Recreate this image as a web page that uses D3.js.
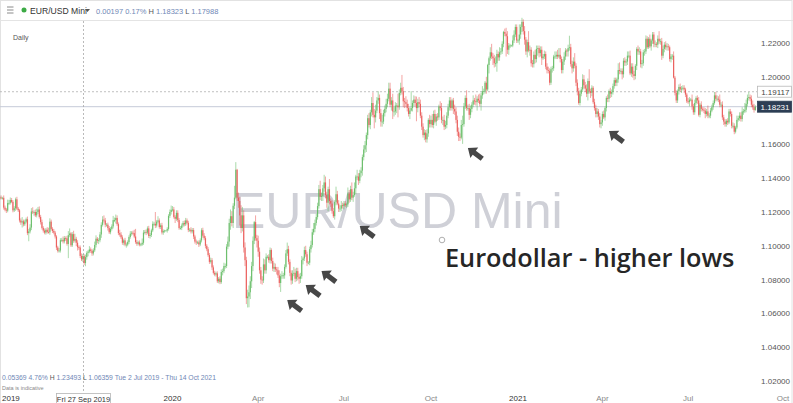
<!DOCTYPE html>
<html><head><meta charset="utf-8">
<script src="https://cdn.jsdelivr.net/npm/d3@7/dist/d3.min.js"></script>
<style>
html,body{margin:0;padding:0;background:#fff;overflow:hidden;}
svg{display:block;font-family:"Liberation Sans",Arial,sans-serif;}
</style></head><body>
<svg id="c" width="793" height="403"></svg>
<script>
// EUR/USD daily, values in 1/10000 (open of each day = previous close)
const firstOpen = 11285;
const closes = [
// Jul 2019
11286,11283,11284,11226,11214,11208,11253,11254,11271,11260,11210,11222,11275,11220,11210,11150,11138,11145,11127,11143,11157,11075,
// Aug 2019
11085,11108,11203,11198,11200,11180,11200,11215,11171,11140,11106,11090,11078,11095,11082,11080,11143,11100,11088,11078,11055,10990,
// Sep 2019
10970,10972,11033,11035,11026,11046,11044,11011,11063,11073,11003,11069,11030,11041,11018,10992,10990,10940,10920,10940,10898,
// Oct 2019
10933,10958,10966,10978,10970,10955,10973,11005,11042,11030,11033,11067,11124,11155,11150,11125,11125,11105,11080,11100,11115,11152,11152,
// Nov 2019
11165,11128,11075,11066,11050,11018,11032,11007,11007,11022,11052,11072,11077,11075,11055,11022,11012,11020,11007,11008,11018,
// Dec 2019
11078,11082,11078,11103,11058,11064,11091,11130,11130,11120,11143,11150,11111,11121,11079,11087,11090,11090,11100,11177,11200,11213,
// Jan 2020
11215,11171,11160,11195,11152,11105,11105,11120,11135,11127,11150,11136,11093,11095,11085,11093,11055,11025,11020,11020,11008,11032,11092,
// Feb 2020
11060,11045,11000,10980,10945,10905,10915,10872,10840,10830,10837,10790,10805,10785,10845,10850,10880,10880,10995,11025,
// Mar 2020
11135,11175,11135,11237,11285,11450,11285,11265,11180,11105,11180,10990,10915,10690,10700,10725,10790,10880,11030,11140,11045,11030,
// Apr 2020
10965,10855,10800,10795,10890,10855,10935,10935,10915,10975,10910,10865,10875,10860,10855,10825,10780,10820,10825,10825,10875,10955,
// May 2020
10980,10905,10840,10795,10835,10840,10805,10850,10815,10805,10820,10915,10925,10975,10950,10900,10900,10980,11005,11080,11100,
// Jun 2020
11135,11170,11235,11335,11290,11295,11340,11375,11300,11255,11335,11265,11250,11205,11175,11260,11305,11250,11220,11220,11240,11235,
// Jul 2020
11250,11240,11245,11310,11275,11335,11285,11300,11340,11410,11410,11385,11430,11445,11525,11570,11595,11655,11755,11715,11790,11845,11775,
// Aug 2020
11760,11800,11860,11875,11785,11735,11735,11785,11810,11840,11870,11930,11835,11860,11795,11795,11830,11830,11820,11905,11935,
// Sep 2020
11915,11855,11850,11840,11815,11780,11800,11815,11845,11865,11845,11815,11850,11840,11770,11705,11655,11670,11630,11665,11745,11720,
// Oct 2020
11745,11715,11780,11735,11765,11760,11825,11815,11745,11745,11705,11715,11770,11820,11860,11815,11860,11810,11795,11745,11675,11645,
// Nov 2020
11640,11715,11720,11825,11875,11815,11815,11775,11810,11835,11860,11855,11850,11870,11860,11840,11890,11915,11915,11965,11925,
// Dec 2020
12070,12110,12145,12120,12110,12080,12080,12135,12115,12145,12150,12195,12265,12255,12240,12160,12185,12185,12185,12215,12250,12295,12215,
// Jan 2021
12215,12250,12295,12325,12270,12220,12150,12205,12155,12160,12080,12075,12130,12105,12165,12170,12140,12160,12110,12120,12135,
// Feb 2021
12060,12040,12035,11965,12045,12050,12120,12120,12130,12120,12130,12105,12040,12090,12120,12155,12150,12170,12175,12075,
// Mar 2021
12050,12090,12065,11965,11915,11845,11900,11925,11985,11950,11930,11900,11975,11915,11905,11935,11850,11815,11780,11795,11765,11720,11730,
// Apr 2021
11780,11760,11815,11875,11870,11915,11900,11910,11945,11980,11965,11985,12040,12035,12035,12015,12095,12085,12090,12125,12125,12020,
// May 2021
12060,12015,12005,12065,12165,12150,12150,12075,12080,12145,12150,12225,12175,12225,12180,12215,12250,12195,12195,12190,12225,
// Jun 2021
12210,12210,12125,12165,12190,12175,12180,12175,12105,12120,12125,11995,11905,11860,11915,11940,11925,11930,11935,11925,11895,11855,
// Jul 2021
11850,11865,11865,11825,11790,11845,11875,11860,11775,11835,11810,11805,11800,11780,11795,11770,11770,11800,11820,11845,11890,11870,
// Aug 2021
11870,11865,11835,11835,11760,11735,11720,11740,11730,11795,11780,11710,11710,11675,11700,11745,11755,11770,11750,11795,11795,11805,
// Sep 2021
11840,11875,11880,11870,11835,11820,11803,11823
];
// wick beyond the body, in 1/10000
const upperWick = [
10,12,6,14,12,10,20,18,15,12,10,12,10,15,10,8,12,25,10,12,10,16,
15,20,20,25,10,15,20,15,18,12,15,10,12,10,15,25,20,12,10,12,10,8,
10,15,12,12,20,12,10,15,24,30,8,12,20,30,12,15,10,12,15,12,10,
15,10,10,20,12,10,12,20,20,10,12,15,15,20,25,15,10,12,12,10,12,25,15,
20,15,10,20,15,12,10,15,12,10,10,15,10,12,20,45,12,10,12,8,25,
15,12,15,12,15,12,10,15,12,70,10,25,12,12,15,10,5,3,10,10,15,25,
20,15,10,15,15,12,12,12,12,15,15,12,12,10,15,12,12,10,12,10,12,12,12,
15,15,12,10,12,12,15,12,12,12,10,12,10,15,15,15,20,15,15,30,
25,40,30,15,70,45,5,30,25,60,50,30,30,20,40,40,30,25,25,7,40,20,
30,25,20,20,35,30,20,10,15,15,10,20,25,20,15,20,30,15,25,15,15,20,
39,20,15,15,20,35,25,20,20,20,20,25,10,20,25,15,10,15,25,20,35,
20,20,20,25,50,20,20,45,35,20,15,60,15,20,20,10,45,20,20,20,25,15,
15,15,10,35,20,20,40,20,35,10,40,20,20,20,15,25,25,15,20,30,15,35,63,
35,35,20,40,20,25,40,20,20,30,30,35,35,20,40,25,20,15,70,20,30,
76,25,20,35,25,25,20,100,15,25,20,38,20,30,25,20,20,20,15,25,10,30,
25,35,20,25,15,20,10,30,30,20,30,25,20,20,20,20,10,15,25,25,25,25,
20,30,50,20,15,45,20,25,20,15,30,15,40,15,25,40,15,30,15,10,35,
7,10,30,50,20,20,40,25,15,30,20,15,7,20,35,30,15,10,5,30,25,15,15,
10,60,15,24,15,30,15,15,65,25,15,20,20,30,20,15,15,20,20,15,20,
15,20,20,15,15,15,10,30,20,30,40,40,15,15,25,15,10,20,68,20,
20,25,50,15,20,20,20,15,30,25,20,25,15,70,15,15,10,20,20,20,15,20,15,
15,20,10,10,20,10,20,15,15,15,15,10,40,45,15,15,15,20,15,25,25,30,
20,20,20,10,10,20,25,15,20,15,15,20,15,10,25,10,15,15,20,10,20,
45,15,20,20,15,20,20,15,10,15,10,25,10,15,10,15,20,15,15,15,10,10,
20,15,10,30,15,20,10,15,20,10,20,10,15,15,15,35,15,15,15,15,20,20,
20,15,30,15,20,15,15,10,15,15,15,15,20,15,10,25,15,20,20,25,15,40,
25,20,30,15,20,25,20,9
];
const lowerWick = [
12,8,10,12,10,14,10,12,10,8,12,10,15,8,10,12,14,30,12,10,10,12,
48,12,15,10,20,10,12,12,10,14,10,12,10,12,10,8,15,10,12,10,12,15,
10,10,12,10,12,12,15,10,84,12,10,10,12,10,20,20,14,12,10,15,12,
19,15,20,10,12,14,12,10,15,15,20,12,20,10,12,15,12,15,10,12,10,12,12,
20,10,12,12,10,12,15,10,18,10,12,10,12,10,10,10,12,10,10,10,8,
12,10,15,10,12,15,12,10,12,15,12,10,10,12,12,14,10,3,12,10,12,15,
10,10,25,12,12,10,10,12,10,12,10,10,12,10,12,12,15,12,15,10,15,10,12,
12,12,15,12,10,12,10,15,10,10,12,10,12,12,10,20,12,15,12,15,
30,40,20,30,20,10,20,40,60,30,20,30,35,35,55,64,40,40,30,20,15,40,
30,20,25,25,15,20,20,10,15,20,15,15,20,15,25,15,25,53,15,20,20,10,
15,15,20,25,20,15,20,15,20,30,25,15,25,15,15,20,10,15,20,15,15,
20,15,15,15,20,25,30,20,20,30,50,20,20,15,10,20,20,10,20,20,15,15,
20,10,15,15,20,15,15,25,10,35,20,25,15,25,30,20,20,40,25,15,25,25,15,
65,30,15,20,35,30,30,15,20,20,20,15,15,35,45,30,20,45,60,15,15,
20,35,35,20,20,15,30,5,20,20,20,78,25,20,15,20,15,30,18,20,20,20,
20,15,20,10,25,20,15,15,20,30,20,15,20,15,20,15,15,30,20,20,25,25,
20,10,112,15,15,15,15,30,20,20,15,20,20,50,15,15,40,20,20,15,25,
10,50,15,15,40,25,20,50,20,20,15,15,20,15,120,25,30,15,5,10,15,15,15,
15,25,25,30,20,30,20,35,10,30,20,20,20,25,20,40,25,20,40,10,15,
15,20,15,15,13,20,15,15,15,15,10,20,20,20,20,20,30,30,15,15,
30,20,15,20,25,10,15,15,15,20,20,20,40,15,30,20,10,15,20,20,20,20,25,
20,10,20,20,20,20,25,20,15,15,20,20,20,20,20,30,20,20,20,20,15,10,
20,20,25,20,25,20,20,20,25,15,20,15,10,10,10,25,20,20,20,15,20,
15,20,25,15,20,15,20,20,15,20,20,5,15,15,15,20,15,20,10,20,15,10,
10,25,10,20,15,15,10,20,10,15,15,10,15,25,15,15,15,15,10,15,10,15,
15,15,15,15,15,20,15,15,15,10,15,15,15,15,10,10,10,15,15,15,20,10,
15,15,15,15,15,15,15,4
];
const firstDate = "2019-07-02";
const rangeEnd = "2021-10-14";
// 1.18000 sits under the last-price box in the reference, so it is not labelled
const yTicks = [1.02,1.04,1.06,1.08,1.10,1.12,1.14,1.16,1.20,1.22];
const xTickDates = ["2020-01-01","2020-04-01","2020-07-01","2020-10-01","2021-01-01","2021-04-01","2021-07-01","2021-10-01"];
const xTickLabels = ["2020","Apr","Jul","Oct","2021","Apr","Jul","Oct"];
const crossDate = "2019-09-27", crossLabel = "Fri 27 Sep 2019";
const arrowDates = ["2020-05-01","2020-05-21","2020-06-08","2020-07-17","2020-11-10","2021-04-08"];
const arrowPrices = [1.0679,1.0768,1.0851,1.1117,1.1579,1.1679];
const lastPrice = 1.18231, refPrice = 1.19117;

const svg = d3.select("#c");
const W = 793, H = 403;
const parse = d3.utcParse("%Y-%m-%d");

// trading days (Mon-Fri) for each close
const dates = [];
for (let d = parse(firstDate); dates.length < closes.length; d = d3.utcDay.offset(d, 1)) {
  const wd = d.getUTCDay();
  if (wd > 0 && wd < 6) dates.push(d);
}
const lastIdx = dates.length - 1;
function slot(ds) {
  const d = typeof ds === "string" ? parse(ds) : ds;
  if (d <= dates[lastIdx]) return d3.bisector(v => v).left(dates, d);
  return lastIdx + d3.utcDay.count(dates[lastIdx], d);
}
const endSlot = slot(rangeEnd);
const x = d3.scaleLinear().domain([0, endSlot]).range([-0.25, -0.25 + 1.3187 * endSlot]);
const y = d3.scaleLinear().domain([1.02, 1.22]).range([381, 43]);

const candles = closes.map((c, i) => {
  const o = (i === 0 ? firstOpen : closes[i - 1]) / 1e4, cl = c / 1e4;
  return {i, o, c: cl, h: Math.max(o, cl) + upperWick[i] / 1e4, l: Math.min(o, cl) - lowerWick[i] / 1e4};
});

// outer frame & header
svg.append("rect").attr("x", 0.5).attr("y", 0.5).attr("width", W - 1.5).attr("height", H).attr("fill", "#fff").attr("stroke", "#e2e2e2");
svg.append("line").attr("x1", 0).attr("x2", W).attr("y1", 20.5).attr("y2", 20.5).attr("stroke", "#e4e4e4");

// watermark
svg.append("text").attr("x", 232).attr("y", 228).attr("font-size", 50).attr("fill", "#cfd0d7").text("EUR/USD Mini");

// price lines
svg.append("line").attr("x1", 0).attr("x2", 757).attr("y1", y(refPrice)).attr("y2", y(refPrice))
  .attr("stroke", "#b0b0b0").attr("stroke-dasharray", "2,2").attr("stroke-width", 0.8);
svg.append("line").attr("x1", 0).attr("x2", 757).attr("y1", y(lastPrice)).attr("y2", y(lastPrice))
  .attr("stroke", "#c5cbd8").attr("stroke-width", 1);

// crosshair
const cx = Math.round(x(slot(crossDate))) + 0.5;
svg.append("line").attr("x1", cx).attr("x2", cx).attr("y1", 21).attr("y2", 393)
  .attr("stroke", "#a8a8a8").attr("stroke-dasharray", "2,2").attr("stroke-width", 0.8);

// candles
const up = "#5cb85c", dn = "#e8504d";
const cg = svg.append("g");
cg.selectAll("line").data(candles).join("line")
  .attr("x1", d => x(d.i)).attr("x2", d => x(d.i))
  .attr("y1", d => y(d.h)).attr("y2", d => y(d.l))
  .attr("stroke", d => d.c >= d.o ? up : dn).attr("stroke-width", 0.7).attr("stroke-opacity", 0.75);
cg.selectAll("rect").data(candles).join("rect")
  .attr("x", d => x(d.i) - 0.6).attr("width", 1.2)
  .attr("y", d => y(Math.max(d.o, d.c)))
  .attr("height", d => Math.max(0.8, Math.abs(y(d.o) - y(d.c))))
  .attr("fill", d => d.c >= d.o ? up : dn).attr("fill-opacity", 0.8);

// arrows
const arrowPath = "M0,0 L8,-6.5 L8,-2.6 L18,-2.6 L18,2.6 L8,2.6 L8,6.5 Z";
svg.selectAll("path.arrow").data(arrowDates).join("path").attr("class", "arrow")
  .attr("d", arrowPath).attr("fill", "#474747")
  .attr("transform", (d, k) => `translate(${x(slot(d))},${y(arrowPrices[k])}) rotate(37)`);

// annotation
svg.append("text").attr("x", 445).attr("y", 267).attr("font-family", "'Open Sans',sans-serif")
  .attr("font-weight", 600).attr("font-size", 25.3).attr("fill", "#262626").text("Eurodollar - higher lows");
svg.append("circle").attr("cx", 442).attr("cy", 240).attr("r", 2.8).attr("fill", "#fff").attr("stroke", "#9a9a9a").attr("stroke-width", 0.8);

// y axis
const ya = svg.append("g").attr("transform", "translate(790,0)")
  .call(d3.axisRight(y).tickValues(yTicks).tickSize(0).tickPadding(0).tickFormat(d3.format(".5f")));
ya.select(".domain").remove();
ya.selectAll("text").attr("text-anchor", "end").attr("font-size", 8).attr("fill", "#555").attr("font-family", "'Liberation Sans',Arial,sans-serif");

// price boxes
function priceBox(v, fill, stroke, tcol) {
  const g = svg.append("g");
  g.append("rect").attr("x", 757.5).attr("y", y(v) - 5.5).attr("width", 34).attr("height", 11)
    .attr("fill", fill).attr("stroke", stroke).attr("stroke-width", 0.8);
  g.append("text").attr("x", 789.5).attr("y", y(v) + 3).attr("text-anchor", "end")
    .attr("font-size", 8).attr("fill", tcol).text(v.toFixed(5));
}
priceBox(refPrice, "#fff", "#b8b8b8", "#444");
priceBox(lastPrice, "#2d3e55", "#2d3e55", "#fff");

// x axis labels
svg.append("text").attr("x", 2).attr("y", 401).attr("font-size", 8).attr("fill", "#333").text("2019");
svg.selectAll("text.xt").data(xTickDates).join("text").attr("class", "xt")
  .attr("x", d => x(slot(d))).attr("y", 401).attr("text-anchor", "middle").attr("font-size", 8)
  .attr("fill", (d, k) => /^\d{4}$/.test(xTickLabels[k]) ? "#333" : "#888")
  .text((d, k) => xTickLabels[k]);
svg.append("rect").attr("x", cx - 27).attr("y", 393.5).attr("width", 54).attr("height", 10)
  .attr("fill", "#fff").attr("stroke", "#b5b5b5").attr("stroke-width", 0.8);
svg.append("text").attr("x", cx).attr("y", 401.5).attr("text-anchor", "middle").attr("font-size", 7.5)
  .attr("fill", "#333").text(crossLabel);

// header
const hd = svg.append("g");
[7, 10, 13].forEach(v => hd.append("line").attr("x1", 7).attr("x2", 13.5).attr("y1", v).attr("y2", v).attr("stroke", "#8a8a8a").attr("stroke-width", 1));
hd.append("circle").attr("cx", 24).attr("cy", 10).attr("r", 2.5).attr("fill", "#3caa45");
hd.append("text").attr("x", 30).attr("y", 13.5).attr("font-size", 8.6).attr("fill", "#333").text("EUR/USD Mini");
hd.append("path").attr("d", "M85,9 L90,9 L87.5,12 Z").attr("fill", "#555");
const ht = hd.append("text").attr("x", 96).attr("y", 13.5).attr("font-size", 7.5).attr("fill", "#6f87b6");
ht.append("tspan").text("0.00197  0.17%  ");
ht.append("tspan").attr("fill", "#555").text("H ");
ht.append("tspan").text("1.18323  ");
ht.append("tspan").attr("fill", "#555").text("L ");
ht.append("tspan").text("1.17988");
svg.append("text").attr("x", 13).attr("y", 40).attr("font-size", 7).attr("fill", "#555").text("Daily");

// bottom info
const bt = svg.append("text").attr("x", 2).attr("y", 380).attr("font-size", 6.8).attr("fill", "#6f87b6");
bt.append("tspan").text("0.05369   4.76%   ");
bt.append("tspan").attr("fill", "#555").text("H ");
bt.append("tspan").text("1.23493   ");
bt.append("tspan").attr("fill", "#555").text("L ");
bt.append("tspan").text("1.06359   Tue 2 Jul 2019 - Thu 14 Oct 2021");
svg.append("text").attr("x", 2).attr("y", 389.5).attr("font-size", 5.5).attr("fill", "#888").text("Data is indicative");
</script>
</body></html>
